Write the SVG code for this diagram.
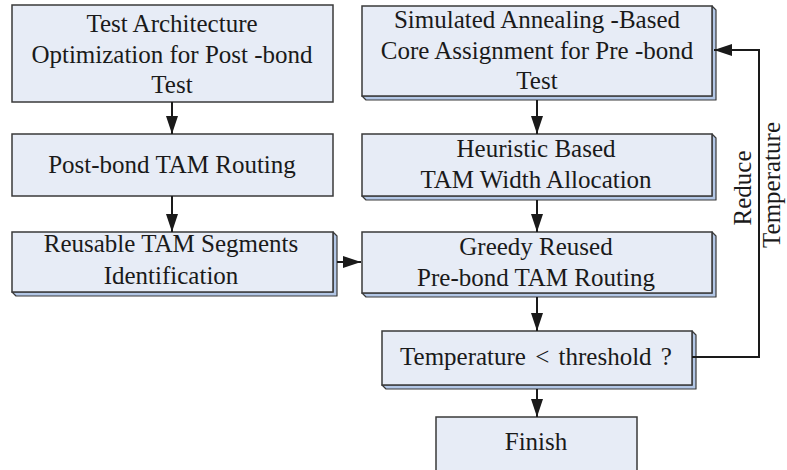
<svg xmlns="http://www.w3.org/2000/svg" width="787" height="470" viewBox="0 0 787 470" font-family="'Liberation Serif', serif">
<defs>
<style>
.box{fill:#e7ecf6;stroke:#3a3a3a;stroke-width:1.5}
.bev{fill:#b3c7e6;stroke:#3a3a3a;stroke-width:1.2;stroke-linejoin:round}
text{font-family:'Liberation Serif','Times New Roman',serif;font-size:25px;fill:#1a1a1a;text-anchor:middle}
.c{fill:none;stroke:#1a1a1a;stroke-width:2}
</style>
<marker id="ah" markerWidth="18" markerHeight="12" refX="18" refY="6" orient="auto" markerUnits="userSpaceOnUse">
<path d="M0,0 L18,6 L0,12 Z" fill="#1a1a1a"/>
</marker>
</defs>
<rect width="787" height="470" fill="#ffffff"/>

<g id="n1">
<rect class="box" x="12" y="5" width="321" height="97"/>
<text x="172" y="32">Test Architecture</text>
<text x="172" y="63">Optimization for Post -bond</text>
<text x="172" y="93">Test</text>
</g>

<g id="n2">
<rect class="box" x="12" y="134" width="321" height="62"/>
<text x="172" y="173">Post-bond TAM Routing</text>
</g>

<g id="n3">
<path class="bev" d="M333,232 L337,236 L337,296 L16,296 L12,292 L333,292 Z"/>
<rect class="box" x="12" y="232" width="321" height="60"/>
<text x="171" y="252">Reusable TAM Segments</text>
<text x="171" y="284">Identification</text>
</g>

<g id="n4">
<path class="bev" d="M712,6 L716,10 L716,100 L366,100 L362,96 L712,96 Z"/>
<rect class="box" x="362" y="6" width="350" height="90"/>
<text x="537" y="28">Simulated Annealing -Based</text>
<text x="537" y="59">Core Assignment for Pre -bond</text>
<text x="537" y="89">Test</text>
</g>

<g id="n5">
<path class="bev" d="M712,134 L716,138 L716,200 L366,200 L362,196 L712,196 Z"/>
<rect class="box" x="362" y="134" width="350" height="62"/>
<text x="536" y="157">Heuristic Based</text>
<text x="536" y="188">TAM Width Allocation</text>
</g>

<g id="n6">
<path class="bev" d="M712,232 L716,236 L716,297 L366,297 L362,293 L712,293 Z"/>
<rect class="box" x="362" y="232" width="350" height="61"/>
<text x="536" y="255">Greedy Reused</text>
<text x="536" y="286">Pre-bond TAM Routing</text>
</g>

<g id="n7">
<path class="bev" d="M692,331 L696,335 L696,389 L386,389 L382,385 L692,385 Z"/>
<rect class="box" x="382" y="331" width="310" height="54"/>
<text x="536" y="365" style="word-spacing:3px">Temperature &lt; threshold ?</text>
</g>

<g id="n8">
<rect class="box" x="436" y="417" width="201" height="60"/>
<text x="536" y="450">Finish</text>
</g>

<g id="connectors">
<line class="c" x1="172" y1="102" x2="172" y2="134" marker-end="url(#ah)"/>
<line class="c" x1="172" y1="196" x2="172" y2="232" marker-end="url(#ah)"/>
<line class="c" x1="337" y1="262" x2="361" y2="262" marker-end="url(#ah)"/>
<line class="c" x1="537" y1="100" x2="537" y2="134" marker-end="url(#ah)"/>
<line class="c" x1="537" y1="200" x2="537" y2="232" marker-end="url(#ah)"/>
<line class="c" x1="537" y1="297" x2="537" y2="331" marker-end="url(#ah)"/>
<line class="c" x1="537" y1="389" x2="537" y2="417" marker-end="url(#ah)"/>
<polyline class="c" points="692,357 759,357 759,50 714,50" marker-end="url(#ah)"/>
<text transform="translate(751,188) rotate(-90)">Reduce</text>
<text transform="translate(780,185) rotate(-90)">Temperature</text>
</g>
</svg>
